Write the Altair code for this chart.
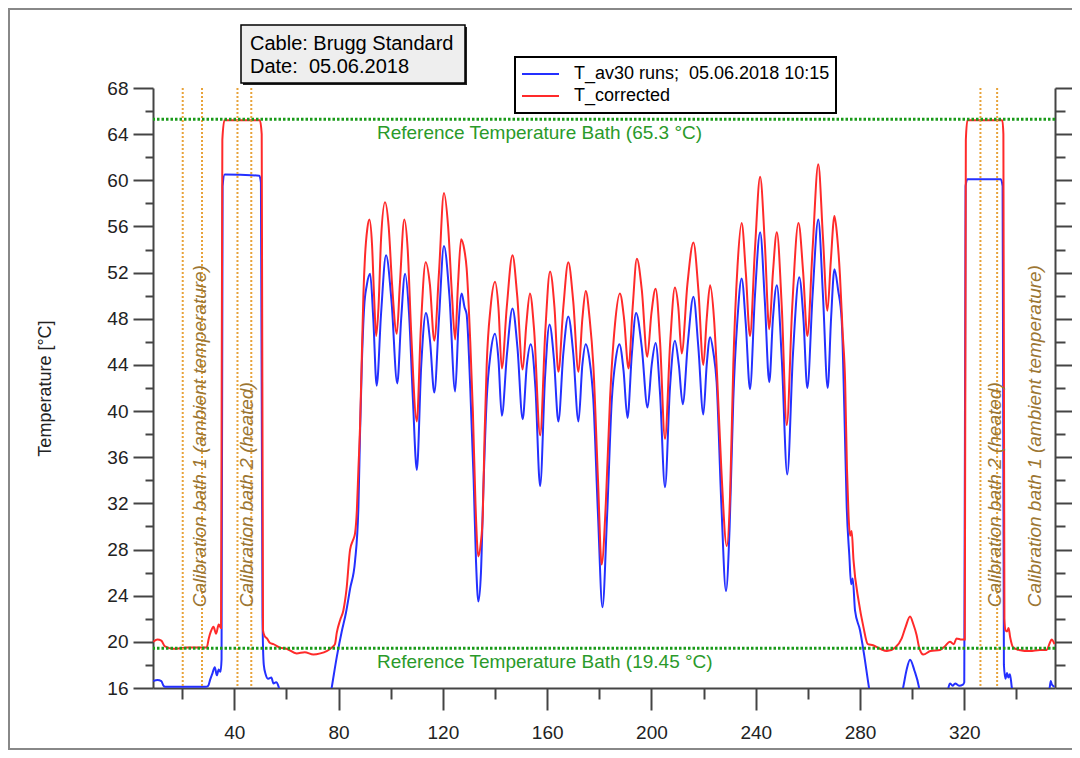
import altair as alt
import pandas as pd

# ---------------- data ----------------
SERIES = ["T_av30 runs;\u00a0 05.06.2018 10:15", "T_corrected"]
SERIES_COLORS = ["#2430ff", "#ff2a2a"]

blue_x = [8.9, 10.5, 12.0, 12.8, 13.4, 29.0, 30.0, 30.7, 31.5, 32.5, 33.3, 34.0, 34.7, 35.1, 35.5, 36.3, 49.6, 50.2, 50.8, 51.3,
          52.0, 53.0, 54.2, 55.0, 56.0, 57.0, 58.0, 60.0, 75.0, 77.4, 79.3, 81.2, 82.8, 84.4, 86.3, 87.6, 88.2, 88.9, 89.8, 90.8,
          92.1, 93.3, 94.6, 96.3, 98.2, 100.3, 102.5, 104.0, 105.5, 107.0, 108.5, 110.0, 111.7, 113.5, 115.1, 116.7, 118.5, 120.4, 122.5, 124.7,
          126.0, 127.2, 128.3, 129.1, 130.5, 131.8, 132.7, 133.6, 134.6, 135.5, 136.8, 138.3, 140.0, 141.3, 142.6, 144.6, 146.7, 148.6, 150.6, 152.2,
          153.7, 155.5, 157.3, 159.2, 160.9, 162.6, 164.3, 166.2, 168.1, 170.0, 172.0, 173.5, 174.8, 176.2, 177.7, 179.5, 181.2, 183.0, 184.8, 186.3,
          187.7, 189.3, 190.8, 192.5, 194.1, 196.3, 198.5, 200.1, 201.6, 203.3, 205.2, 207.1, 209.0, 210.5, 212.0, 214.0, 216.1, 218.0, 219.9, 221.2,
          222.5, 223.8, 225.0, 226.8, 228.6, 230.0, 231.4, 233.0, 234.6, 236.2, 237.8, 239.7, 241.7, 243.5, 245.2, 246.6, 248.1, 250.0, 252.1, 254.3,
          256.7, 258.3, 259.8, 261.8, 264.0, 265.8, 267.6, 268.9, 270.2, 271.6, 273.0, 274.0, 274.9, 275.9, 276.6, 277.2, 278.1, 280.0, 281.5, 283.4,
          285.0, 294.5, 296.6, 297.9, 299.2, 300.9, 302.6, 304.0, 313.0, 314.0, 314.6, 315.5, 316.5, 318.0, 319.5, 320.0, 320.5, 321.2, 334.0, 334.7,
          335.2, 335.8, 336.4, 336.9, 337.5, 338.2, 339.5, 351.5, 352.8, 353.2, 353.6, 354.6]
blue_y = [16.6, 16.7, 16.6, 16.2, 16.1, 16.1, 16.2, 16.7, 17.2, 17.8, 17.1, 17.6, 17.4, 18.5, 59.5, 60.5, 60.4, 59.8, 22.0, 18.0,
          17.2, 16.8, 16.9, 16.4, 16.5, 16.1, 15.0, 13.0, 13.0, 16.1, 18.7, 20.9, 22.5, 24.6, 27.0, 31.7, 37.9, 44.0, 49.0, 50.9,
          51.9, 48.0, 42.2, 48.5, 53.5, 49.5, 42.4, 48.0, 51.9, 48.5, 41.0, 34.9, 44.0, 48.5, 46.0, 41.6, 48.0, 54.3, 50.0, 41.7,
          47.5, 50.2, 49.0, 48.4, 42.0, 34.0, 27.0, 23.5, 26.0, 33.0, 41.0, 45.0, 46.7, 44.5, 39.6, 45.0, 48.9, 45.5, 39.3, 44.0,
          45.8, 42.0, 33.5, 43.0, 47.5, 44.5, 39.1, 45.0, 48.2, 45.0, 39.1, 44.0, 45.8, 44.5, 41.0, 31.0, 23.0, 31.0, 41.0, 44.5,
          45.8, 43.5, 39.4, 45.0, 48.5, 45.5, 40.3, 44.0, 45.9, 41.5, 33.4, 42.0, 46.1, 44.0, 40.6, 46.0, 49.9, 45.5, 39.7, 44.0,
          46.4, 45.0, 42.5, 32.0, 24.4, 30.0, 41.0, 48.0, 51.5, 47.5, 41.9, 50.0, 55.5, 49.5, 42.5, 48.0, 50.9, 44.5, 34.5, 45.0,
          51.6, 48.0, 42.0, 50.0, 56.6, 50.0, 42.0, 48.0, 52.3, 50.5, 47.8, 40.0, 31.7, 27.5, 25.0, 25.5, 22.7, 21.0, 19.0, 16.1,
          14.0, 14.0, 16.1, 17.6, 18.45, 17.5, 16.1, 14.0, 14.0, 16.1, 16.4, 16.2, 16.4, 16.2, 16.3, 16.5, 59.5, 60.1, 60.1, 59.5,
          18.0, 16.8, 17.3, 16.9, 17.2, 16.1, 14.0, 14.0, 16.1, 16.6, 16.3, 16.1]

red_x = [8.9, 10.5, 12.0, 13.4, 16.6, 22.0, 29.4, 30.2, 31.0, 32.0, 33.0, 34.0, 34.9, 35.4, 36.2, 49.8, 50.5, 51.0, 51.6, 52.5,
         53.7, 55.0, 57.5, 60.0, 63.9, 67.0, 70.3, 73.0, 75.4, 77.4, 78.6, 79.3, 80.6, 81.8, 83.0, 84.4, 85.5, 86.3, 87.0, 87.6,
         88.2, 88.9, 89.5, 90.1, 91.0, 91.8, 92.8, 93.6, 94.4, 95.3, 96.3, 97.8, 99.2, 100.5, 102.3, 103.5, 105.2, 106.5, 107.8, 110.0,
         111.5, 113.4, 115.0, 116.7, 118.5, 120.4, 122.0, 123.5, 124.7, 125.8, 127.0, 128.2, 129.1, 130.5, 131.5, 132.5, 133.6, 134.5, 135.3, 136.0,
         136.8, 138.3, 140.0, 141.3, 142.6, 144.5, 146.7, 148.5, 150.6, 152.0, 153.4, 155.0, 157.3, 159.3, 161.1, 162.8, 164.3, 166.2, 168.1, 170.0,
         172.0, 173.5, 174.8, 176.3, 177.7, 179.5, 180.9, 182.5, 184.1, 186.0, 187.9, 189.5, 191.2, 192.8, 194.4, 196.3, 198.4, 200.0, 201.6, 203.3,
         205.2, 207.2, 209.0, 210.3, 211.6, 213.8, 216.1, 218.0, 219.9, 221.2, 222.5, 224.0, 225.2, 226.8, 228.9, 230.2, 231.4, 233.0, 234.6, 236.2,
         237.8, 239.7, 241.7, 243.5, 245.2, 246.6, 248.1, 250.0, 251.9, 254.0, 256.4, 258.2, 259.8, 261.8, 264.0, 265.8, 267.5, 268.8, 270.2, 271.3,
         272.3, 273.3, 274.3, 275.0, 275.6, 276.2, 276.8, 277.5, 279.5, 281.3, 283.0, 285.0, 287.7, 290.3, 293.5, 296.0, 297.5, 299.2, 300.5, 301.7,
         302.7, 304.3, 307.0, 310.7, 312.5, 314.5, 316.0, 317.0, 319.0, 320.2, 320.6, 321.2, 334.6, 335.0, 335.4, 335.8, 336.4, 337.0, 337.6, 338.8,
         341.0, 345.2, 349.0, 351.6, 352.8, 353.5, 354.6]
red_y = [20.0, 20.2, 20.1, 19.6, 19.4, 19.5, 19.5, 20.3, 20.9, 21.3, 20.7, 21.5, 21.2, 63.5, 65.2, 65.2, 64.0, 21.0, 20.5, 20.3,
         19.9, 19.8, 19.5, 19.4, 19.0, 19.1, 18.9, 19.0, 19.2, 19.5, 19.8, 20.8, 21.9, 22.7, 24.5, 28.0, 28.8, 29.4, 31.4, 35.0,
         38.5, 44.7, 50.0, 53.3, 55.8, 56.6, 54.5, 50.0, 46.5, 49.0, 55.0, 58.1, 56.0, 51.0, 46.7, 51.0, 56.6, 54.0, 47.0, 39.1,
         47.0, 52.9, 51.0, 46.1, 52.0, 58.9, 56.0, 50.0, 46.2, 51.0, 54.9, 54.0, 52.4, 46.0, 40.0, 32.0, 27.4, 28.5, 31.0, 38.0,
         44.0, 49.0, 51.2, 49.0, 43.7, 49.0, 53.5, 50.0, 43.6, 47.5, 50.2, 47.0, 37.9, 47.0, 52.1, 49.0, 43.4, 49.0, 52.9, 49.5,
         43.4, 48.0, 50.4, 48.0, 44.0, 34.0, 26.7, 32.0, 41.0, 47.5, 50.2, 48.0, 43.7, 49.0, 53.2, 50.5, 44.7, 48.5, 50.6, 46.0,
         37.6, 46.0, 50.7, 49.0, 45.0, 51.0, 54.6, 50.5, 44.0, 48.0, 50.9, 48.0, 43.0, 35.0, 28.3, 33.0, 44.0, 52.5, 56.3, 52.0,
         46.5, 54.0, 60.3, 54.5, 47.1, 52.0, 55.5, 49.0, 38.8, 49.0, 56.3, 52.0, 46.5, 54.0, 61.4, 55.0, 48.7, 53.0, 56.9, 55.0,
         51.8, 47.0, 42.5, 35.0, 31.0, 29.2, 29.6, 27.1, 23.5, 21.3, 19.8, 19.7, 19.4, 19.2, 19.5, 20.3, 21.3, 22.2, 21.5, 20.6,
         19.5, 18.9, 19.2, 19.3, 19.6, 20.0, 19.8, 20.3, 20.2, 20.2, 63.5, 65.2, 65.2, 64.0, 22.0, 21.0, 20.9, 21.2, 20.4, 19.5,
         19.3, 19.2, 19.3, 19.3, 19.9, 20.2, 19.8]

ref_temp = [65.3, 19.45]
ref_text = ["Reference Temperature Bath (65.3 °C)", "Reference Temperature Bath (19.45 °C)"]
ref_text_x = [94.7, 94.7]

bath_line_x = [20.2, 27.6, 41.2, 46.5, 326.2, 332.6]
bath_text = ["Calibration bath 1 (ambient temperature)", "Calibration bath 2 (heated)",
             "Calibration bath 2 (heated)", "Calibration bath 1 (ambient temperature)"]
bath_text_x = [26.7, 44.8, 331.8, 347.1]
bath_text_y = [23.0, 23.0, 23.0, 23.0]

title_lines = ["Cable: Brugg Standard", "Date:\u00a0 05.06.2018"]

X_DOMAIN = [8.8, 354.8]
Y_DOMAIN = [16, 68]
x_ticks = list(range(20, 341, 20))
y_ticks = list(range(16, 69, 2))

# ---------------- tables ----------------
lines_df = pd.DataFrame({
    "series": [SERIES[0]] * len(blue_x) + [SERIES[1]] * len(red_x),
    "x": blue_x + red_x,
    "y": blue_y + red_y,
})
ref_df = pd.DataFrame({"y": ref_temp, "x": ref_text_x, "text": ref_text})
bath_line_df = pd.DataFrame({"x": bath_line_x})
bath_text_df = pd.DataFrame({"x": bath_text_x, "y": bath_text_y, "text": bath_text})
one = pd.DataFrame({"k": [0]})

FONT = "Liberation Sans"
xscale = alt.Scale(domain=X_DOMAIN, nice=False, zero=False)
yscale = alt.Scale(domain=Y_DOMAIN, nice=False, zero=False)

x_axis = alt.Axis(
    orient="bottom", values=x_ticks, title=None,
    labelExpr="datum.value % 40 === 0 ? datum.label : ''",
    tickSize={"condition": {"test": "datum.value % 40 === 0", "value": 22}, "value": 11},
    labelPadding=13, labelOverlap=False, labelFlush=False,
)
y_axis_left = alt.Axis(
    orient="left", values=y_ticks, title="Temperature [°C]",
    labelExpr="datum.value % 4 === 0 ? datum.label : ''",
    tickSize={"condition": {"test": "datum.value % 4 === 0", "value": 20}, "value": 8},
    labelPadding=5, labelOverlap=False, labelFlush=False,
    titleFontSize=18, titleFontWeight="normal", titleX=-108, titleY=300,
    titleAngle=270, titleAlign="center", titleBaseline="middle",
)
y_axis_right = alt.Axis(
    orient="right", values=y_ticks, title=None, labels=False,
    tickSize={"condition": {"test": "datum.value % 4 === 0", "value": 20}, "value": 10},
)

# ---------------- layers ----------------
frame = alt.Chart(one).mark_rect(fill="white", fillOpacity=0, stroke="#888888", strokeWidth=2).encode(
    x=alt.value(-144), x2=alt.value(1000), y=alt.value(-79), y2=alt.value(661))

box_shadow = alt.Chart(one).mark_rect(color="#222222").encode(
    x=alt.value(90), x2=alt.value(314), y=alt.value(-61), y2=alt.value(-3))
box = alt.Chart(one).mark_rect(fill="#eeeeee", stroke="black", strokeWidth=1.5).encode(
    x=alt.value(88), x2=alt.value(312), y=alt.value(-63), y2=alt.value(-5))
title1 = alt.Chart(one).mark_text(align="left", baseline="middle", font=FONT, fontSize=20, color="black").encode(
    x=alt.value(97), y=alt.value(-44), text=alt.value(title_lines[0]))
title2 = alt.Chart(one).mark_text(align="left", baseline="middle", font=FONT, fontSize=20, color="black").encode(
    x=alt.value(97), y=alt.value(-21), text=alt.value(title_lines[1]))

lines = alt.Chart(lines_df).mark_line(interpolate="monotone", strokeWidth=2, clip=True).encode(
    x=alt.X("x:Q", scale=xscale, axis=x_axis),
    y=alt.Y("y:Q", scale=yscale, axis=y_axis_left),
    color=alt.Color("series:N", scale=alt.Scale(domain=SERIES, range=SERIES_COLORS),
                    legend=alt.Legend(
                        title=None, orient="none", legendX=362, legendY=-31,
                        symbolType="stroke", symbolSize=1369, symbolStrokeWidth=2,
                        clipHeight=22, rowPadding=0, labelFont=FONT, labelFontSize=18,
                        labelColor="black", labelOffset=14, labelLimit=400, padding=6,
                        strokeColor="black", fillColor="white")),
    order=alt.Order("x:Q"),
)

bath_rules = alt.Chart(bath_line_df).mark_rule(color="#e8a33a", strokeWidth=2, strokeDash=[2, 2]).encode(
    x=alt.X("x:Q", scale=xscale, axis=x_axis))

ref_rules = alt.Chart(ref_df).mark_rule(color="#1a9a1a", strokeWidth=3, strokeDash=[2.5, 2]).encode(
    y=alt.Y("y:Q", scale=yscale, axis=y_axis_right))

ref_labels = alt.Chart(ref_df).mark_text(align="left", baseline="middle", dy=14, font=FONT, fontSize=19,
                                         color="#2a9a2a").encode(
    x=alt.X("x:Q", scale=xscale, axis=x_axis),
    y=alt.Y("y:Q", scale=yscale, axis=None),
    text="text:N")

bath_labels = alt.Chart(bath_text_df).mark_text(angle=270, align="left", baseline="middle", font=FONT,
                                                fontSize=19, fontStyle="italic", color="#9c7632").encode(
    x=alt.X("x:Q", scale=xscale, axis=x_axis),
    y=alt.Y("y:Q", scale=yscale, axis=None),
    text="text:N")

chart = alt.layer(
    frame, lines, bath_rules, ref_rules, ref_labels, bath_labels, box_shadow, box, title1, title2
).resolve_axis(y="independent").properties(
    width=902, height=600,
    autosize=alt.AutoSizeParams(type="none"),
    padding={"left": 145, "top": 80, "right": 17, "bottom": 62},
).configure_axis(
    domainColor="#444444", domainWidth=2, tickColor="#444444", tickWidth=2,
    labelFont=FONT, labelFontSize=19, labelColor="#222222",
    titleFont=FONT, titleColor="#222222", grid=False,
).configure_view(strokeWidth=0).configure_legend(strokeWidth=2)

chart.save("out.html", embed_options={"renderer": "svg", "actions": False})
